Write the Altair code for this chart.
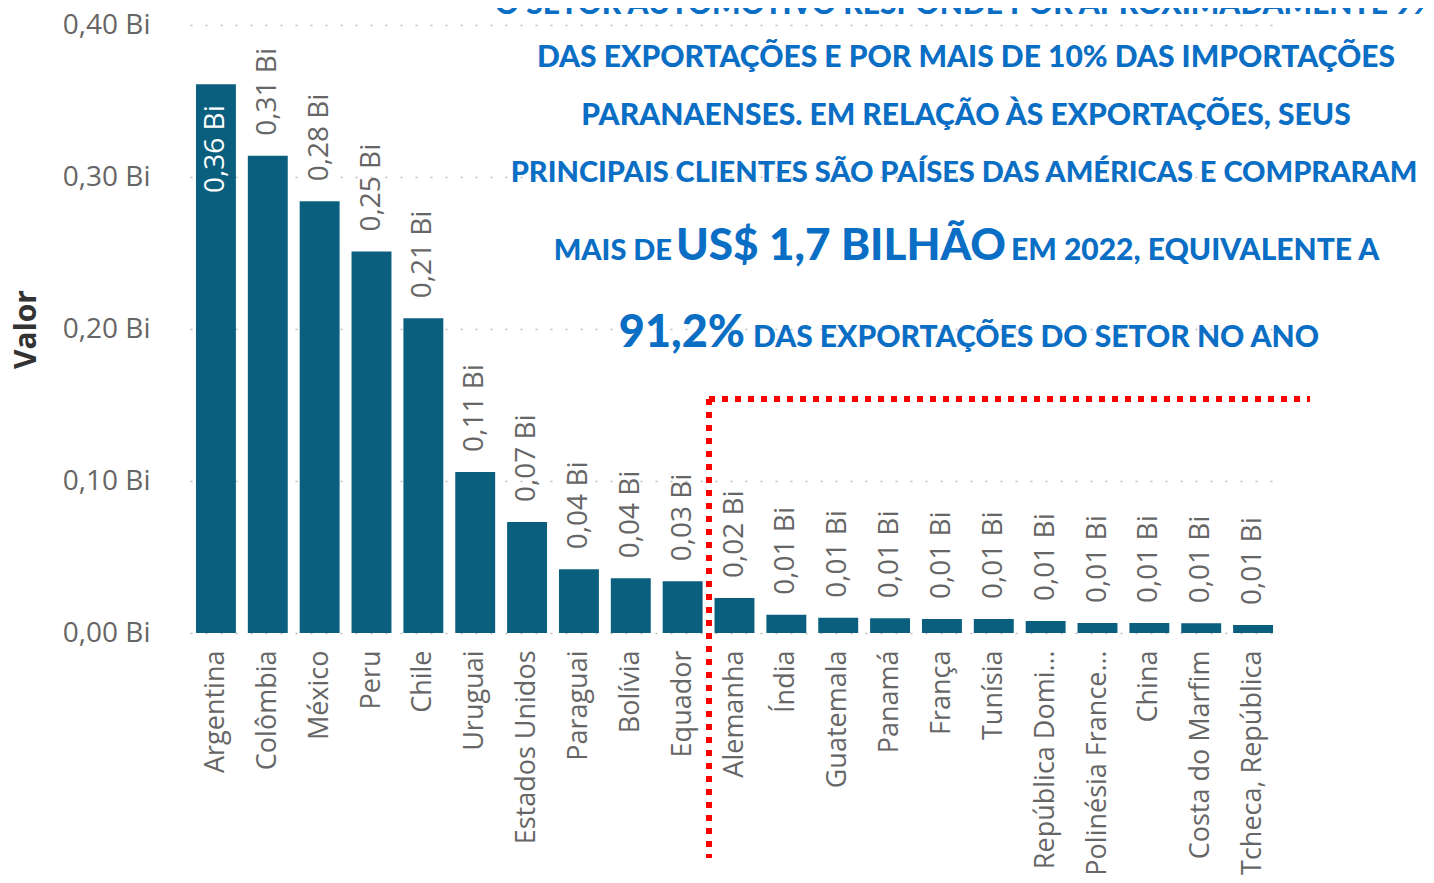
import altair as alt
import pandas as pd

paises = ["Argentina", "Colômbia", "México", "Peru", "Chile", "Uruguai",
          "Estados Unidos", "Paraguai", "Bolívia", "Equador", "Alemanha",
          "Índia", "Guatemala", "Panamá", "França", "Tunísia",
          "República Dominicana", "Polinésia Francesa", "China",
          "Costa do Marfim", "Tcheca, República"]
valores = [0.361, 0.314, 0.284, 0.251, 0.207, 0.106, 0.073, 0.042, 0.036,
           0.034, 0.023, 0.012, 0.010, 0.0097, 0.0092, 0.0092, 0.0079,
           0.0066, 0.0066, 0.0064, 0.0053]
y_ticks = [0.0, 0.1, 0.2, 0.3, 0.4]

linhas = ["O SETOR AUTOMOTIVO RESPONDE POR APROXIMADAMENTE 9%",
          "DAS EXPORTAÇÕES E POR MAIS DE 10% DAS IMPORTAÇÕES",
          "PARANAENSES. EM RELAÇÃO ÀS EXPORTAÇÕES, SEUS",
          "PRINCIPAIS CLIENTES SÃO PAÍSES DAS AMÉRICAS E COMPRARAM"]
linha5 = ["MAIS DE", "US$ 1,7 BILHÃO", "EM 2022, EQUIVALENTE A"]
linha6 = ["91,2%", "DAS EXPORTAÇÕES DO SETOR NO ANO"]

df = pd.DataFrame({"pais": paises, "valor": valores})

BAR = "#0A5F7E"
BLUE = "#0A6EC4"
GREY = "#666666"
LFONT = "Open Sans"
TFONT = "Lato"

base = alt.Chart(df).transform_calculate(
    rotulo="replace(format(datum.valor, '.2f'), '.', ',') + ' Bi'"
)

x_enc = alt.X("pais:N", sort=None,
              scale=alt.Scale(paddingInner=0.23, paddingOuter=0.115),
              axis=alt.Axis(title=None, labelAngle=-90, labelAlign="right",
                            labelBaseline="middle", labelPadding=17,
                            ticks=False, domain=False, labelFont=LFONT,
                            labelFontSize=27, labelColor=GREY, labelLimit=226))
y_enc = alt.Y("valor:Q",
              scale=alt.Scale(domain=[0, 0.4], nice=False),
              axis=alt.Axis(values=y_ticks,
                            labelExpr="replace(format(datum.value, '.2f'), '.', ',') + ' Bi'",
                            title="Valor", titleFont=LFONT, titleFontSize=30,
                            titleFontWeight="bold", titleColor="#333333",
                            titlePadding=21,
                            grid=True, gridDash=[2, 13], gridColor="#BDBDBD",
                            gridWidth=1.6, domain=False, ticks=False,
                            labelPadding=40, labelFont=LFONT,
                            labelFontSize=28, labelColor=GREY))

bars = base.mark_bar(color=BAR).encode(x=x_enc, y=y_enc)

lab_out = base.transform_filter("datum.valor < 0.33").mark_text(
    angle=270, align="left", baseline="middle", dx=20, font=LFONT,
    fontSize=28, color=GREY
).encode(x=alt.X("pais:N", sort=None), y="valor:Q", text="rotulo:N")

lab_in = base.transform_filter("datum.valor >= 0.33").mark_text(
    angle=270, align="right", baseline="middle", dx=-21, font=LFONT,
    fontSize=28, color="white"
).encode(x=alt.X("pais:N", sort=None), y="valor:Q", text="rotulo:N")

one = pd.DataFrame({"k": [0]})
red_v = alt.Chart(one).mark_rule(color="#FF0000", strokeWidth=6,
                                 strokeDash=[6, 7]).encode(
    x=alt.value(519), y=alt.value(374), y2=alt.value(833))
red_h = alt.Chart(one).mark_rule(color="#FF0000", strokeWidth=6,
                                 strokeDash=[6, 7]).encode(
    x=alt.value(519), x2=alt.value(1120), y=alt.value(374))


def txt(s, x, y, size, align):
    return alt.Chart(pd.DataFrame({"t": [s]})).mark_text(
        font=TFONT, fontWeight=900, fontSize=size, color=BLUE,
        align=align, baseline="alphabetic"
    ).encode(x=alt.value(x), y=alt.value(y), text="t:N")


texts = [
    txt(linhas[0], 776, -11, 30, "center"),
    txt(linhas[1], 776, 42, 30, "center"),
    txt(linhas[2], 776, 100, 30, "center"),
    txt(linhas[3], 774, 157, 29, "center"),
    txt(linha5[0], 482, 235, 29, "right"),
    txt(linha5[1], 651, 235, 44, "center"),
    txt(linha5[2], 821, 235, 30, "left"),
    txt(linha6[0], 555, 322, 45, "right"),
    txt(linha6[1], 563, 322, 30, "left"),
]

chart = alt.layer(bars, lab_out, lab_in, red_v, red_h, *texts).properties(
    width=1089, height=608,
    autosize=alt.AutoSizeParams(type="none"),
    padding={"left": 182, "top": 17, "right": 147, "bottom": 242},
).configure_view(stroke=None)

chart.save("out.html", embed_options={"renderer": "svg", "actions": False})
